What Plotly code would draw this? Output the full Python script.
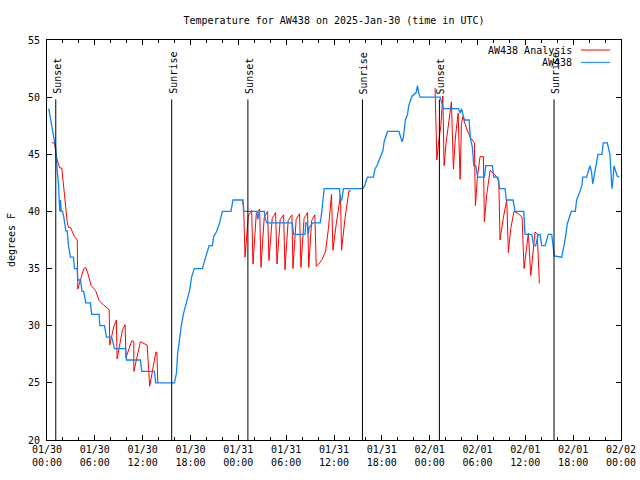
import plotly.graph_objects as go

title_text = "Temperature for AW438 on 2025-Jan-30 (time in UTC)"
y_label = "degrees F"

# x axis: hours since 2025-01-30 00:00 UTC
tick_hours = [0, 6, 12, 18, 24, 30, 36, 42, 48, 54, 60, 66, 72]
tick_labels = ["01/30<br>00:00", "01/30<br>06:00", "01/30<br>12:00", "01/30<br>18:00",
               "01/31<br>00:00", "01/31<br>06:00", "01/31<br>12:00", "01/31<br>18:00",
               "02/01<br>00:00", "02/01<br>06:00", "02/01<br>12:00", "02/01<br>18:00",
               "02/02<br>00:00"]

sun_hours = [1.10, 15.64, 25.20, 39.57, 49.22, 63.60]
sun_labels = ["Sunset", "Sunrise", "Sunset", "Sunrise", "Sunset", "Sunrise"]

series_names = ["AW438 Analysis", "AW438"]
series_colors = ["#ff0000", "#0a84ff"]

# AW438 observations
blue_hours = [0.22, 0.44, 0.60, 0.78, 0.94, 1.10, 1.28, 1.44, 1.53, 1.60, 1.69, 1.78, 1.95, 2.11,
              2.36, 2.53, 2.69, 2.94, 3.32, 3.45, 3.78, 3.86, 4.20, 4.39, 4.60, 4.86, 5.45, 5.61,
              6.54, 6.62, 7.21, 7.46, 8.12, 8.46, 9.87, 9.96, 11.72, 11.88, 13.47, 13.63, 15.98,
              16.23, 16.39, 16.64, 16.89, 17.14, 17.39, 17.54, 17.89, 18.15, 18.48, 19.49, 19.74,
              19.90, 20.33, 20.74, 20.90, 21.24, 21.65, 21.99, 23.08, 23.33, 24.59, 24.66, 26.34,
              26.42, 26.63, 27.26, 27.39, 27.59, 30.76, 30.93, 32.36, 32.46, 32.64, 32.77, 32.89,
              33.36, 34.27, 34.44, 34.69, 34.77, 36.69, 36.78, 36.97, 37.19, 39.62, 39.87, 40.04,
              40.20, 40.95, 41.13, 41.38, 41.70, 41.95, 42.13, 42.29, 42.54, 42.71, 44.14, 44.39,
              44.55, 44.71, 44.96, 45.22, 45.39, 45.64, 45.80, 46.30, 46.47, 46.62, 46.80, 49.31,
              49.56, 49.72, 51.60, 51.82, 51.98, 52.36, 52.95, 53.03, 53.11, 53.36, 53.53, 53.78,
              54.03, 54.86, 55.04, 55.86, 56.04, 56.54, 56.79, 57.46, 57.62, 58.46, 58.62, 58.71,
              59.80, 59.87, 59.96, 60.80, 61.05, 61.30, 61.63, 61.84, 62.06, 62.47, 62.88, 63.31,
              63.47, 63.63, 64.56, 64.76, 65.01, 65.26, 65.76, 66.27, 66.44, 66.77, 67.11, 67.19,
              67.69, 67.94, 68.11, 68.30, 68.45, 68.61, 68.95, 69.11, 69.61, 69.77, 70.28, 70.61,
              70.70, 70.86, 71.02, 71.11, 71.53, 71.78]
blue_temps = [49.0, 48.1, 47.5, 46.9, 45.9, 45.5, 43.6, 42.4, 41.0, 40.0, 41.0, 40.0, 40.0, 39.5,
              38.3, 38.3, 37.0, 36.0, 36.0, 35.0, 35.0, 34.0, 34.0, 33.0, 33.0, 32.0, 32.0, 31.0,
              31.0, 30.0, 30.0, 29.0, 29.0, 28.0, 28.0, 27.0, 27.0, 26.0, 26.0, 25.0, 25.0,
              25.8, 27.6, 29.0, 30.2, 31.1, 31.8, 32.0, 33.1, 34.3, 35.0, 35.0, 35.7,
              36.0, 37.0, 37.0, 37.8, 38.2, 39.0, 40.0, 40.0, 41.0, 41.0, 40.0, 40.0,
              39.3, 40.0, 40.0, 39.3, 39.0, 39.0, 38.0, 38.0, 39.0, 39.0, 38.0, 38.6,
              39.0, 39.0, 39.8, 41.5, 42.0, 42.0, 41.0, 41.0, 42.0, 42.0, 42.3, 42.7,
              43.0, 43.0, 43.7, 44.0, 44.5, 44.9, 45.3, 46.1, 46.65, 47.0, 47.0, 46.4,
              46.1, 46.5, 48.0, 48.5, 49.3, 49.8, 50.1, 50.4, 51.0, 50.4, 50.0, 50.0,
              49.4, 49.0, 49.0, 48.6, 49.0, 48.0, 48.0, 47.4, 46.4, 45.6, 44.0, 44.0,
              43.0, 43.0, 44.0, 44.0, 43.0, 43.0, 42.0, 42.0, 41.0, 41.0, 40.4, 40.0,
              40.0, 39.1, 38.0, 38.0, 37.0, 37.0, 38.0, 38.0, 37.0, 37.0, 38.0, 38.0,
              37.0, 36.1, 36.0, 36.7, 37.6, 38.9, 40.0, 40.0, 41.0, 41.6, 42.3, 43.0,
              43.0, 43.6, 44.0, 43.5, 42.4, 43.0, 44.3, 45.0, 45.0, 46.0, 46.0, 45.0,
              43.9, 42.0, 43.0, 44.0, 43.1, 43.0]

# AW438 Analysis (night-time only; None marks gaps)
red_hours = [0.60, 0.94, 1.03, 1.28, 1.60, 1.85, 2.03, 2.28, 2.53, 2.69, 2.94, 3.45, 3.80, 3.86,
             4.03, 4.36, 4.61, 4.86, 5.11, 5.54, 6.08, 6.54, 7.11, 7.80, 7.87, 8.37, 8.70, 8.79,
             9.46, 9.71, 9.80, 9.90, 10.65, 10.88, 10.90, 11.71, 12.56, 12.88, 13.66, 13.78, 13.90,
             None,
             24.50, 24.66, 24.84, 25.25, 25.67, 25.84, 26.25, 26.67, 26.84, 27.25, 27.67, 27.84,
             28.25, 28.68, 28.85, 29.25, 29.68, 29.85, 30.25, 30.72, 30.85, 31.25, 31.68, 31.85,
             32.25, 32.68, 32.83, 33.20, 33.60, 33.77, 34.10, 34.50, 34.94, 35.30, 35.69, 35.86,
             36.30, 36.82, 36.94, 37.40, 37.87, 38.12,
             None,
             48.68, 48.90, 49.10, 49.40, 49.65, 49.81, 50.06, 50.31, 50.73, 50.98, 51.23, 51.57,
             51.82, 51.98, 52.15, 52.66, 53.07, 53.61, 53.74, 53.99, 54.32, 54.74, 54.86, 55.16,
             55.58, 56.20, 56.67, 56.83, 57.25, 57.67, 57.87, 58.17, 58.58, 59.12, 59.59, 59.84,
             60.38, 60.68, 61.22, 61.50, 61.76]
red_temps = [46.0, 46.0, 45.5, 44.5, 43.8, 43.8, 42.6, 40.8, 39.1, 38.6, 38.6, 37.8, 37.5, 33.2,
             33.7, 34.4, 35.0, 35.1, 34.6, 33.5, 33.1, 32.2, 31.8, 31.4, 28.3, 29.9, 30.5, 27.1,
             29.6, 30.1, 30.1, 27.2, 28.7, 28.6, 26.0, 28.6, 28.3, 24.7, 27.7, 27.7, 25.0,
             None,
             40.9, 40.5, 36.0, 39.6, 40.1, 35.4, 39.8, 40.2, 35.1, 39.5, 40.0, 35.7,
             39.4, 39.9, 35.4, 39.3, 39.7, 34.9, 39.2, 39.7, 35.0, 39.3, 39.8, 35.1,
             39.4, 39.9, 35.1, 39.2, 39.7, 35.2, 35.4, 35.8, 36.5, 38.5, 41.5, 36.6,
             39.0, 41.4, 36.6, 39.5, 41.8, 41.8,
             None,
             50.8, 44.5, 45.9, 47.5, 50.1, 44.0, 46.0, 47.5, 49.6, 43.7, 46.5, 48.6,
             42.8, 47.6, 48.3, 47.2, 46.5, 46.0, 40.5, 43.0, 44.8, 44.8, 39.1, 41.5,
             43.6, 43.2, 42.7, 37.5, 39.5, 41.0, 36.4, 38.5, 40.0, 39.8, 39.5, 35.0,
             38.1, 34.4, 38.2, 38.0, 33.7]

FONT = dict(family="DejaVu Sans Mono", size=10, color="black")

fig = go.Figure()
fig.add_trace(go.Scatter(x=red_hours, y=red_temps, mode="lines", name=series_names[0],
                         line=dict(color=series_colors[0], width=1), connectgaps=False,
                         showlegend=False))
fig.add_trace(go.Scatter(x=blue_hours, y=blue_temps, mode="lines", name=series_names[1],
                         line=dict(color=series_colors[1], width=1.3), showlegend=False))

for h, lab in zip(sun_hours, sun_labels):
    fig.add_shape(type="line", xref="x", yref="y", x0=h, x1=h, y0=20, y1=49.8,
                  line=dict(color="black", width=1))
    fig.add_annotation(x=h, y=50.1, xref="x", yref="y", text=lab, textangle=-90,
                       xanchor="center", yanchor="bottom", showarrow=False, font=FONT, xshift=1)

# manual legend (text left of sample line, like gnuplot)
legend_y = [0.975, 0.944]
for name, color, ly in zip(series_names, series_colors, legend_y):
    fig.add_annotation(x=0.918, y=ly, xref="paper", yref="paper", text=name, showarrow=False,
                       xanchor="right", yanchor="middle", font=FONT)
    fig.add_shape(type="line", xref="paper", yref="paper", x0=0.930, x1=0.981, y0=ly, y1=ly,
                  line=dict(color=color, width=1))

fig.update_layout(
    width=640, height=480,
    margin=dict(l=47, r=19, t=40, b=40, autoexpand=False),
    paper_bgcolor="white", plot_bgcolor="white",
    font=FONT,
    showlegend=False,
    title=dict(text=title_text, x=0.5, xref="paper", xanchor="center",
               y=1 - 20 / 480, yref="container", yanchor="middle", font=FONT),
    xaxis=dict(range=[0, 72], tickmode="array", tickvals=tick_hours, ticktext=tick_labels,
               ticks="inside", ticklen=5, tickcolor="black", showline=True, linecolor="black",
               linewidth=1, mirror="ticks", showgrid=False, zeroline=False, automargin=False,
               minor=dict(tickmode="linear", tick0=0, dtick=2, ticks="inside", ticklen=3,
                          tickcolor="black", showgrid=False)),
    yaxis=dict(range=[20, 55], tickmode="linear", tick0=20, dtick=5, ticks="inside", ticklen=5,
               tickcolor="black", showline=True, linecolor="black", linewidth=1, mirror="ticks",
               showgrid=False, zeroline=False, ticklabelstandoff=4, automargin=False,
               title=dict(text=y_label, font=FONT, standoff=10)),
)

fig.write_html("out.html", config={"displayModeBar": False},
               post_script="document.body.style.margin='0px';")
